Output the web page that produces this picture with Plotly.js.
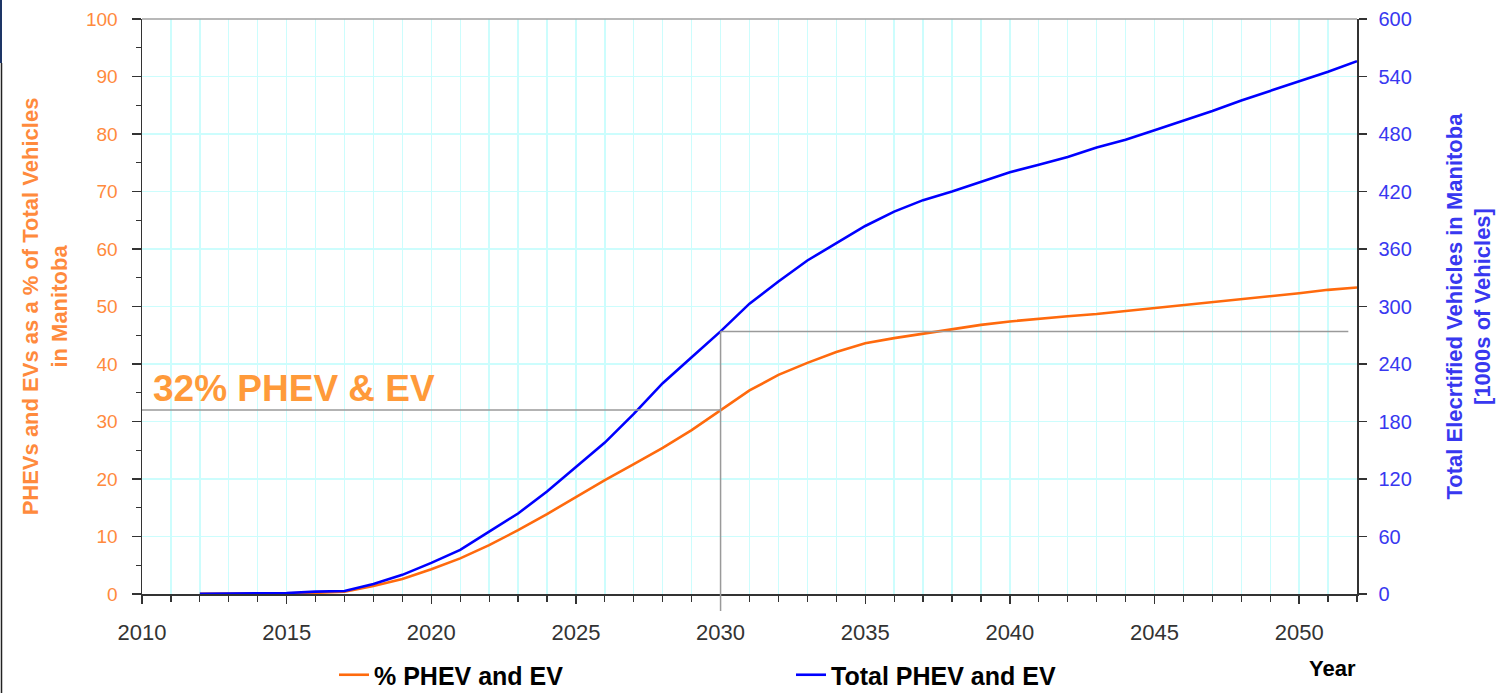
<!DOCTYPE html>
<html>
<head>
<meta charset="utf-8">
<script src="https://cdn.plot.ly/plotly-3.0.1.min.js"></script>
<style>
  html, body { margin: 0; padding: 0; background: #ffffff; }
  #chart { width: 1507px; height: 693px; }
</style>
</head>
<body>
<div id="chart"></div>
<script>
// ---- data ----
var years = [2012, 2013, 2014, 2015, 2016, 2017, 2018, 2019, 2020, 2021,
             2022, 2023, 2024, 2025, 2026, 2027, 2028, 2029, 2030, 2031,
             2032, 2033, 2034, 2035, 2036, 2037, 2038, 2039, 2040, 2041,
             2042, 2043, 2044, 2045, 2046, 2047, 2048, 2049, 2050, 2051, 2052];

// % of total vehicles (left axis)
var pctPhevEv = [0.05, 0.05, 0.1, 0.1, 0.2, 0.4, 1.4, 2.6, 4.3, 6.2,
                 8.5, 11.1, 13.9, 16.9, 19.8, 22.6, 25.4, 28.5, 32.0, 35.4,
                 38.1, 40.2, 42.1, 43.6, 44.5, 45.3, 46.1, 46.8, 47.4, 47.9,
                 48.3, 48.7, 49.2, 49.7, 50.3, 50.7, 51.2, 51.8, 52.3, 52.9, 53.3];

// total PHEV and EV, 1000s of vehicles (right axis)
var totalPhevEv = [0.3, 0.3, 1.0, 1.0, 2.5, 3.2, 10.5, 20, 32.5, 46,
                   65, 84, 107, 132, 158, 188, 220, 247, 274, 303,
                   326, 348, 366, 384, 399, 411, 420, 430, 440, 448,
                   456, 466, 474, 484, 494, 504, 515, 525, 535, 545, 556];

var seriesNames = ['% PHEV and EV', 'Total PHEV and EV'];
var leftTitle = 'PHEVs and EVs as a % of Total Vehicles<br>in Manitoba';
var rightTitle = 'Total Elecrtified Vehicles in Manitoba<br>[1000s of Vehicles]';
var xTitle = 'Year';
var highlightYear = 2030;
var highlightText = '32% PHEV & EV';

// ---- styling ----
var ORANGE = '#FF6A0D';
var ORANGE_TXT = '#FF8A3D';
var BLUE = '#0000FF';
var BLUE_TXT = '#3838F0';
var GRID = '#CCFDFD';
var FONT = 'Liberation Sans, Arial, sans-serif';

var W = 1507, H = 693;
var M = {l: 142, r: 150, t: 19, b: 99, autoexpand: false};
var plotW = W - M.l - M.r, plotH = H - M.t - M.b;
function px2paperX(px) { return (px - M.l) / plotW; }
function px2paperY(px) { return (H - M.b - px) / plotH; }

var hi = years.indexOf(highlightYear);
var hiPct = pctPhevEv[hi];
var hiTotal = totalPhevEv[hi];

var traces = [
  {
    x: years, y: pctPhevEv, name: seriesNames[0], type: 'scatter', mode: 'lines',
    line: {color: ORANGE, width: 2.6}, yaxis: 'y', hoverinfo: 'x+y'
  },
  {
    x: years, y: totalPhevEv, name: seriesNames[1], type: 'scatter', mode: 'lines',
    line: {color: BLUE, width: 2.6}, yaxis: 'y2', hoverinfo: 'x+y'
  }
];

var layout = {
  width: W, height: H,
  margin: M,
  paper_bgcolor: '#ffffff', plot_bgcolor: '#ffffff',
  font: {family: FONT, size: 17, color: '#333333'},
  showlegend: true,
  legend: {
    orientation: 'h', x: px2paperX(334), xanchor: 'left',
    y: px2paperY(675), yanchor: 'middle',
    font: {family: FONT, size: 25, color: '#000000', weight: 'bold'},
    entrywidth: 412, entrywidthmode: 'pixels',
    bgcolor: 'rgba(0,0,0,0)', traceorder: 'normal'
  },
  xaxis: {
    range: [2010, 2052], dtick: 5, tick0: 2010,
    showgrid: true, gridcolor: GRID, gridwidth: 1.3,
    zeroline: false,
    showline: true, linecolor: '#333333', linewidth: 1.5,
    ticks: 'outside', ticklen: 8, tickcolor: '#333333', tickwidth: 1.3,
    ticklabelstandoff: 10,
    tickfont: {family: FONT, size: 22, color: '#333333'},
    minor: {dtick: 1, showgrid: true, gridcolor: GRID, gridwidth: 1.3,
            ticks: 'outside', ticklen: 6, tickcolor: '#333333', tickwidth: 1.2},
    automargin: false, fixedrange: true
  },
  yaxis: {
    range: [0, 100], dtick: 10, tick0: 0,
    showgrid: true, gridcolor: GRID, gridwidth: 1.3,
    zeroline: false,
    showline: true, linecolor: '#333333', linewidth: 1.5,
    ticks: 'outside', ticklen: 9, tickcolor: '#333333', tickwidth: 1.3,
    ticklabelstandoff: 10,
    tickfont: {family: FONT, size: 19, color: ORANGE_TXT},
    minor: {dtick: 5, showgrid: false, ticks: 'outside', ticklen: 5,
            tickcolor: '#333333', tickwidth: 1.2},
    title: {text: leftTitle, standoff: 12,
            font: {family: FONT, size: 22, color: ORANGE_TXT, weight: 'bold'}},
    automargin: false, fixedrange: true
  },
  yaxis2: {
    range: [0, 600], dtick: 60, tick0: 0,
    overlaying: 'y', side: 'right', anchor: 'x',
    showgrid: false, zeroline: false,
    showline: true, linecolor: '#333333', linewidth: 1.5,
    ticks: 'outside', ticklen: 8, tickcolor: '#333333', tickwidth: 1.3,
    ticklabelstandoff: 8,
    tickfont: {family: FONT, size: 20, color: BLUE_TXT},
    title: {text: rightTitle, standoff: 35,
            font: {family: FONT, size: 22, color: BLUE_TXT, weight: 'bold'}},
    automargin: false, fixedrange: true
  },
  shapes: [
    // top border of plot area
    {type: 'line', xref: 'paper', yref: 'paper', x0: 0, x1: 1, y0: 1, y1: 1,
     line: {color: '#A0A0A0', width: 1.5}},
    // horizontal guide at the 2030 percentage value
    {type: 'line', xref: 'x', yref: 'y', x0: 2010, x1: highlightYear, y0: hiPct, y1: hiPct,
     line: {color: '#9A9A9A', width: 1.5}, layer: 'above'},
    // vertical guide at 2030 up to the total value
    {type: 'line', xref: 'x', yref: 'y2', x0: highlightYear, x1: highlightYear, y0: 0, y1: hiTotal,
     line: {color: '#9A9A9A', width: 1.5}, layer: 'above'},
    // extension of the vertical guide below the axis
    {type: 'line', xref: 'x', yref: 'paper', x0: highlightYear, x1: highlightYear,
     y0: 0, y1: px2paperY(611), line: {color: '#9A9A9A', width: 1.5}, layer: 'above'},
    // horizontal guide at the 2030 total value, to the right
    {type: 'line', xref: 'x', yref: 'y2', x0: highlightYear, x1: years[years.length - 1] - 0.3,
     y0: hiTotal, y1: hiTotal, line: {color: '#9A9A9A', width: 1.5}, layer: 'above'},
    // window frame remnants at the left edge
    {type: 'rect', xref: 'paper', yref: 'paper', x0: px2paperX(0), x1: px2paperX(2),
     y0: px2paperY(0), y1: px2paperY(63), fillcolor: '#1D3566', line: {width: 0}},
    {type: 'line', xref: 'paper', yref: 'paper', x0: px2paperX(1.5), x1: px2paperX(1.5),
     y0: px2paperY(63), y1: px2paperY(693), line: {color: '#222222', width: 1.5}}
  ],
  annotations: [
    {text: highlightText, xref: 'x', yref: 'y', x: 2010, y: hiPct,
     xanchor: 'left', yanchor: 'bottom', xshift: 9, yshift: -1, showarrow: false,
     font: {family: FONT, size: 37, color: '#FF9A3A', weight: 'bold'}},
    {text: xTitle, xref: 'paper', yref: 'paper', x: px2paperX(1332), y: px2paperY(668),
     xanchor: 'center', yanchor: 'middle', showarrow: false,
     font: {family: FONT, size: 22, color: '#000000', weight: 'bold'}}
  ]
};

Plotly.newPlot('chart', traces, layout, {displayModeBar: false, staticPlot: true});
</script>
</body>
</html>
